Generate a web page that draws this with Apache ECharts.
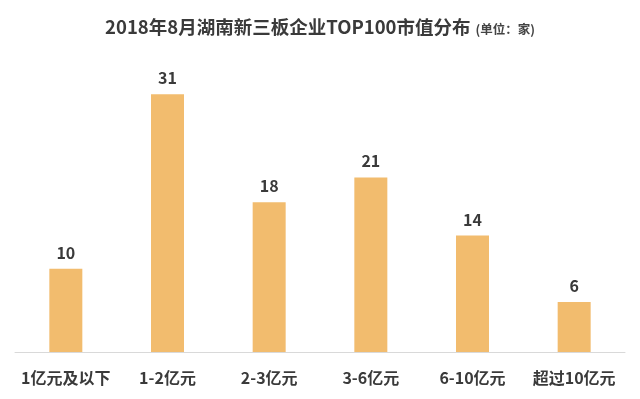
<!DOCTYPE html>
<html><head><meta charset="utf-8">
<script src="https://cdn.jsdelivr.net/npm/echarts@6/dist/echarts.min.js"></script>
<style>html,body{margin:0;padding:0;background:#fff}#c{width:640px;height:399px}</style>
</head><body><div id="c"></div>
<script>
const categories = ['1亿元及以下', '1-2亿元', '2-3亿元', '3-6亿元', '6-10亿元', '超过10亿元'];
const counts = [10, 31, 18, 21, 14, 6];
const titleText = '2018年8月湖南新三板企业TOP100市值分布';
const unitText = '(单位：家)';

const chart = echarts.init(document.getElementById('c'));
const font = '"Noto Sans CJK SC", "Noto Sans", sans-serif';
chart.setOption({
  backgroundColor: '#fff',
  animation: false,
  title: {
    left: 'center', top: 13,
    text: '{a|' + titleText + '} {b|' + unitText + '}',
    textStyle: {
      rich: {
        a: { fontSize: 18.5, fontWeight: 'bold', color: '#3a3a3a', fontFamily: font },
        b: { fontSize: 12.5, fontWeight: 'bold', color: '#444', fontFamily: font, padding: [3, 0, 0, 0] }
      }
    }
  },
  grid: { left: 15, right: 15, top: 61, bottom: 47 },
  xAxis: {
    type: 'category', data: categories,
    axisLine: { lineStyle: { color: '#d9d9d9', width: 1 } },
    axisTick: { show: false },
    axisLabel: { interval: 0, color: '#3a3a3a', fontSize: 16, fontWeight: 'bold', fontFamily: font, margin: 18 }
  },
  yAxis: { type: 'value', min: 0, max: 35, show: false, splitLine: { show: false } },
  series: [{
    type: 'bar', data: counts, barWidth: 33,
    itemStyle: { color: '#F2BC6E' },
    label: { show: true, position: 'top', distance: 8, color: '#3a3a3a', fontSize: 16, fontWeight: 'bold', fontFamily: font }
  }]
});
</script></body></html>
